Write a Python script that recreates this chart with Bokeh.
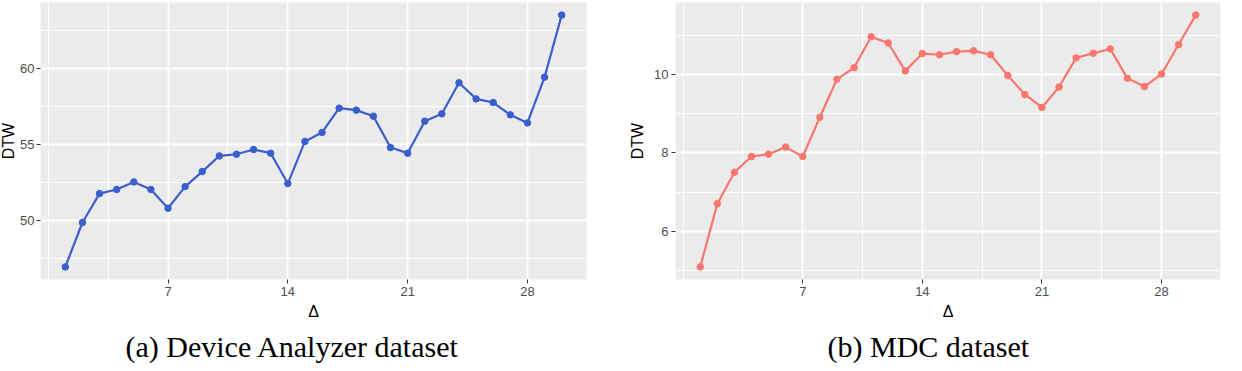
from bokeh.plotting import figure
from bokeh.layouts import row
from bokeh.models import Range1d, FixedTicker, Title
from bokeh.embed import file_html
from bokeh.resources import INLINE

delta = [1, 2, 3, 4, 5, 6, 7, 8, 9, 10, 11, 12, 13, 14, 15,
         16, 17, 18, 19, 20, 21, 22, 23, 24, 25, 26, 27, 28, 29, 30]
dtw_device = [46.93, 49.85, 51.75, 52.02, 52.52, 52.02, 50.79, 52.21, 53.20, 54.23,
              54.34, 54.65, 54.41, 52.41, 55.18, 55.77, 57.37, 57.24, 56.84, 54.78,
              54.41, 56.51, 57.00, 59.04, 57.98, 57.74, 56.93, 56.40, 59.41, 63.49]
dtw_mdc = [5.10, 6.71, 7.51, 7.91, 7.97, 8.15, 7.91, 8.91, 9.88, 10.17,
           10.96, 10.80, 10.09, 10.53, 10.50, 10.58, 10.60, 10.50, 9.97, 9.49,
           9.16, 9.68, 10.42, 10.54, 10.65, 9.90, 9.69, 10.01, 10.76, 11.51]

x_ticks = [7, 14, 21, 28]
x_minor = [0, 3.5, 10.5, 17.5, 24.5, 31.5]
y_ticks_device = [50, 55, 60]
y_minor_device = [47.5, 52.5, 57.5, 62.5]
y_ticks_mdc = [6, 8, 10]
y_minor_mdc = [5, 7, 9, 11]

x_title = "Δ"
y_title = "DTW"
captions = ["(a) Device Analyzer dataset", "(b) MDC dataset"]
colors = ["#3A5FCD", "#F8766D"]


def expand(vals):
    lo, hi = min(vals), max(vals)
    pad = (hi - lo) * 0.05
    return lo - pad, hi + pad


def make_panel(ys, yt, ym, color, caption, width, bl, br, ytick_standoff,
               ylab_standoff, cap_offset):
    xlo, xhi = expand(delta)
    ylo, yhi = expand(ys)
    p = figure(width=width, height=371, output_backend="svg", toolbar_location=None,
               x_range=Range1d(xlo, xhi), y_range=Range1d(ylo, yhi),
               min_border_left=bl, min_border_right=br, min_border_top=2,
               min_border_bottom=92)
    p.background_fill_color = "#EBEBEB"
    p.border_fill_color = "white"
    p.outline_line_color = None

    p.xaxis.ticker = FixedTicker(ticks=x_ticks, minor_ticks=x_minor)
    p.yaxis.ticker = FixedTicker(ticks=yt, minor_ticks=ym)
    for g in (p.xgrid, p.ygrid):
        g.grid_line_color = "white"
        g.grid_line_width = 1.8
        g.minor_grid_line_color = "white"
        g.minor_grid_line_width = 0.9
    for ax in (p.xaxis, p.yaxis):
        ax.axis_line_color = None
        ax.major_tick_line_color = "#333333"
        ax.major_tick_out = 4
        ax.major_tick_in = 0
        ax.minor_tick_line_color = None
        ax.major_label_text_font = "Liberation Sans"
        ax.major_label_text_font_size = "13px"
        ax.major_label_text_color = "#4D4D4D"
        ax.major_label_standoff = 3
        ax.axis_label_text_font = "Liberation Sans"
        ax.axis_label_text_font_size = "16px"
        ax.axis_label_text_font_style = "normal"
        ax.axis_label_text_color = "black"
    p.xaxis.axis_label = x_title
    p.xaxis.axis_label_standoff = 4
    p.yaxis.axis_label = y_title
    p.yaxis.major_label_standoff = ytick_standoff
    p.yaxis.axis_label_standoff = ylab_standoff

    p.line(delta, ys, line_color=color, line_width=2.2)
    p.scatter(delta, ys, size=6.5, fill_color=color, line_color=color)

    t = Title(text=caption, align="left", offset=cap_offset,
              text_font="Liberation Serif", text_font_size="30px",
              text_font_style="normal", text_color="black", standoff=11)
    p.add_layout(t, "below")
    return p


p1 = make_panel(dtw_device, y_ticks_device, y_minor_device, colors[0], captions[0],
                624, 40, 35, 2, 0, 85)
p1.margin = (0, 0, 0, -3)
p2 = make_panel(dtw_mdc, y_ticks_mdc, y_minor_mdc, colors[1], captions[1],
                621, 54, 22, 3, 5, 152)

layout = row(p1, p2)
open("out.html", "w").write(file_html(layout, INLINE))
